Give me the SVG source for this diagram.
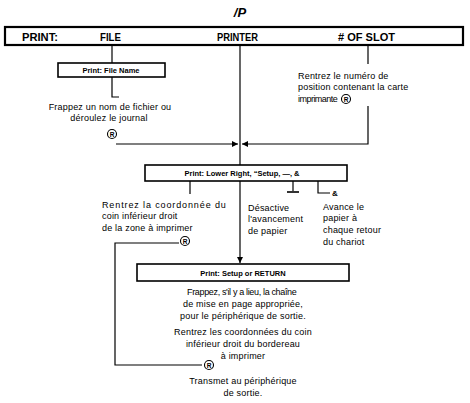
<svg xmlns="http://www.w3.org/2000/svg" width="470" height="403" viewBox="0 0 470 403">
<style>
.bg{fill:#fff}
.box{fill:#fff;stroke:#000;stroke-width:1.6}
.topbox{fill:#fff;stroke:#000;stroke-width:2.2}
.ln{fill:none;stroke:#000;stroke-width:1.2}
.hd{font-family:"Liberation Sans",Arial,sans-serif;font-weight:bold;font-size:11px;fill:#000}
.bx{font-family:"Liberation Sans",Arial,sans-serif;font-weight:bold;font-size:7.5px;fill:#000}
.t{font-family:"Liberation Sans",Arial,sans-serif;font-size:9px;letter-spacing:0.2px;fill:#000}
.c{text-anchor:middle}
.rc{fill:#fff;stroke:#000;stroke-width:1.1}
.rt{font-family:"Liberation Sans",Arial,sans-serif;font-weight:bold;font-size:6.5px;fill:#000;text-anchor:middle}
</style>
<defs>
<marker id="ah" viewBox="0 0 10 10" refX="10" refY="5" markerWidth="7" markerHeight="6" orient="auto" markerUnits="userSpaceOnUse">
<path d="M0,0 L10,5 L0,10 z" fill="#000"/>
</marker>
</defs>
<rect class="bg" x="0" y="0" width="470" height="403"/>

<g id="connectors">
<line class="ln" x1="112" y1="45" x2="112" y2="63"/>
<polyline class="ln" points="112,77 112,97 119,97"/>
<line class="ln" x1="116" y1="144" x2="238" y2="144" marker-end="url(#ah)"/>
<line class="ln" x1="368" y1="45" x2="368" y2="64"/>
<polyline class="ln" points="368,106 368,144 242,144" marker-end="url(#ah)"/>
<line class="ln" x1="240" y1="45" x2="240" y2="165"/>
<line class="ln" x1="240" y1="181" x2="240" y2="263" marker-end="url(#ah)"/>
<line class="ln" x1="190" y1="181" x2="190" y2="194"/>
<line class="ln" x1="293" y1="181" x2="293" y2="191"/>
<line class="ln" x1="287" y1="192" x2="299" y2="192" style="stroke-width:1.6"/>
<polyline class="ln" points="318,181 318,193 330,193"/>
<polyline class="ln" points="179,243 115,243 115,365 202,365"/>
</g>

<g id="title"><text class="hd c" x="240" y="17" style="font-size:13px;font-style:italic">/P</text></g>

<g id="print-menu">
<rect class="topbox" x="5" y="27" width="458" height="18"/>
<text class="hd" x="22" y="41" textLength="36" lengthAdjust="spacingAndGlyphs">PRINT:</text>
<text class="hd" x="100" y="41" textLength="21" lengthAdjust="spacingAndGlyphs">FILE</text>
<text class="hd" x="217" y="41" textLength="41" lengthAdjust="spacingAndGlyphs">PRINTER</text>
<text class="hd" x="338" y="41" textLength="57" lengthAdjust="spacingAndGlyphs"># OF SLOT</text>
</g>

<g id="file-name">
<rect class="box" x="58" y="63" width="107" height="14"/>
<text class="bx c" x="111" y="73">Print: File Name</text>
</g>

<g id="file-text">
<text class="t c" x="110" y="110">Frappez un nom de fichier ou</text>
<text class="t c" x="109" y="121">déroulez le journal</text>
<circle class="rc" cx="112" cy="134" r="4.5"/><text class="rt" x="112" y="136.5">R</text>
</g>

<g id="slot-text">
<text class="t" x="298" y="79">Rentrez le numéro de</text>
<text class="t" x="298" y="90">position contenant la carte</text>
<text class="t" x="298" y="102" textLength="40">imprimante</text>
<circle class="rc" cx="346" cy="99" r="4.5"/><text class="rt" x="346" y="101.5">R</text>
</g>

<g id="lower-right">
<rect class="box" x="145" y="165" width="202" height="16"/>
<text class="bx c" x="242" y="176">Print: Lower Right, “Setup, —, &amp;</text>
</g>

<g id="coord-text">
<text class="t" x="102" y="208" textLength="124">Rentrez la coordonnée du</text>
<text class="t" x="102" y="219">coin inférieur droit</text>
<text class="t" x="102" y="231">de la zone à imprimer</text>
<circle class="rc" cx="185" cy="241" r="4.5"/><text class="rt" x="185" y="243.5">R</text>
</g>

<g id="dash-text">
<text class="t" x="248" y="211">Désactive</text>
<text class="t" x="248" y="222">l'avancement</text>
<text class="t" x="248" y="234">de papier</text>
</g>

<g id="amp-text">
<text class="bx" x="332" y="196" style="font-size:8px">&amp;</text>
<text class="t" x="323" y="210">Avance le</text>
<text class="t" x="323" y="221">papier à</text>
<text class="t" x="323" y="233">chaque retour</text>
<text class="t" x="323" y="245">du chariot</text>
</g>

<g id="setup">
<rect class="box" x="137" y="264" width="212" height="17"/>
<text class="bx c" x="243" y="275.5">Print: Setup or RETURN</text>
</g>

<g id="setup-text">
<text class="t c" x="242" y="295" textLength="110">Frappez, s'il y a lieu, la chaîne</text>
<text class="t c" x="243" y="307">de mise en page appropriée,</text>
<text class="t c" x="243" y="319">pour le périphérique de sortie.</text>
<text class="t c" x="243" y="335">Rentrez les coordonnées du coin</text>
<text class="t c" x="243" y="347">inférieur droit du bordereau</text>
<text class="t c" x="243" y="359">à imprimer</text>
<circle class="rc" cx="209" cy="365" r="4.5"/><text class="rt" x="209" y="367.5">R</text>
<text class="t c" x="243" y="384">Transmet au périphérique</text>
<text class="t c" x="243" y="396">de sortie.</text>
</g>
</svg>
